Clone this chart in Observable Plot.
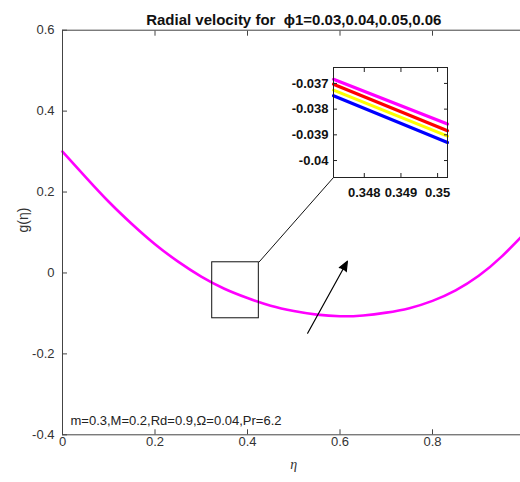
<!DOCTYPE html>
<html>
<head>
<meta charset="utf-8">
<script src="https://cdn.jsdelivr.net/npm/d3@7"></script>
<script src="https://cdn.jsdelivr.net/npm/@observablehq/plot@0.6"></script>
<style>
  html, body { margin: 0; padding: 0; background: white; overflow: hidden; }
  #wrap { position: relative; width: 520px; height: 482px; overflow: hidden; }
  #main svg { max-width: none !important; width: 530px; height: 482px; }
  #inset { position: absolute; left: 273px; top: 57px; }
</style>
</head>
<body>
<div id="wrap"><div id="main"></div><div id="inset"></div></div>
<script>
// ---- data ----
const eta = [0, 0.05, 0.1, 0.15, 0.2, 0.25, 0.3, 0.35, 0.4, 0.45, 0.5, 0.55, 0.6, 0.65, 0.7, 0.75, 0.8, 0.85, 0.9, 0.95, 1.0];
const gVals = [0.300, 0.237, 0.176, 0.121, 0.071, 0.028, -0.009, -0.039, -0.062, -0.081, -0.094, -0.103, -0.107, -0.105, -0.098, -0.087, -0.069, -0.043, -0.007, 0.041, 0.099];
const phiLabels = ["0.03", "0.04", "0.05", "0.06"];
const seriesColors = ["#0000ff", "#ffff00", "#ff0000", "#ff00ff"];
const insetEta = [0.34716, 0.35027];
const insetG = [
  [-0.03748, -0.03930],
  [-0.03726, -0.03905],
  [-0.03703, -0.03884],
  [-0.03684, -0.03858]
];
const xTicks = [0, 0.2, 0.4, 0.6, 0.8, 1];
const yTicks = [-0.4, -0.2, 0, 0.2, 0.4, 0.6];
const insetXTicks = [0.348, 0.349, 0.35];
const insetYTicks = [-0.04, -0.039, -0.038, -0.037];
const titleText = "Radial velocity for  \u03D51=0.03,0.04,0.05,0.06";
const paramText = "m=0.3,M=0.2,Rd=0.9,\u03A9=0.04,Pr=6.2";
// annotation geometry (data units)
const zoomBox = [{x1: 0.3237, x2: 0.4245, y1: -0.112, y2: 0.0264}];
const connector = [{x1: 0.4245, y1: 0.0264, x2: 0.586, y2: 0.236}];
const arrowData = [{x1: 0.530, y1: -0.149, x2: 0.616, y2: 0.029}];
const paramPos = [{x: 0.0173, y: -0.366}];

const mainRows = eta.map((e, i) => ({eta: e, g: gVals[i], phi: "0.06"}));
const insetRows = [];
phiLabels.forEach((p, s) => insetEta.forEach((e, i) => insetRows.push({eta: e, g: insetG[s][i], phi: p})));

const fmt = d => String(d);
const fmtX = d => (d === 1 ? "" : String(d));
const axisColor = "#444";

const main = Plot.plot({
  width: 530, height: 482,
  marginLeft: 62, marginRight: 5.5, marginTop: 29.7, marginBottom: 47.7,
  x: {domain: [0, 1]},
  y: {domain: [-0.4, 0.6]},
  color: {domain: phiLabels, range: seriesColors},
  style: {fontFamily: "'Liberation Sans', Arial, sans-serif", fontSize: "13px", color: "#333", background: "white"},
  marks: [
    Plot.line(mainRows, {x: "eta", y: "g", stroke: "phi", strokeWidth: 2.6, curve: "natural"}),
    Plot.rect(zoomBox, {x1: "x1", x2: "x2", y1: "y1", y2: "y2", fill: "none", stroke: "#111", strokeWidth: 1}),
    Plot.link(connector, {x1: "x1", y1: "y1", x2: "x2", y2: "y2", stroke: "#111", strokeWidth: 1}),
    Plot.arrow(arrowData, {x1: "x1", y1: "y1", x2: "x2", y2: "y2", stroke: "#000", fill: "#000", strokeWidth: 1.2, headLength: 13, headAngle: 45}),
    Plot.text(paramPos, {x: "x", y: "y", text: () => paramText, textAnchor: "start", fontSize: 13, fill: "#222"}),
    Plot.frame({stroke: axisColor, strokeWidth: 1}),
    Plot.axisX({ticks: xTicks, tickSize: -5, tickPadding: 7, tickFormat: fmtX, label: null, stroke: axisColor, fill: "#333"}),
    Plot.axisX({anchor: "top", ticks: xTicks, tickSize: -5, tickFormat: () => "", label: null, stroke: axisColor}),
    Plot.axisY({ticks: yTicks, tickSize: -5, tickPadding: 13, tickFormat: fmt, label: null, stroke: axisColor, fill: "#333"}),
    Plot.axisY({anchor: "right", ticks: yTicks, tickSize: -5, tickFormat: () => "", label: null, stroke: axisColor}),
    Plot.text([titleText], {frameAnchor: "top", dy: -16, fontWeight: "bold", fontSize: 15, fill: "#111"}),
    Plot.text(["\u03B7"], {frameAnchor: "bottom", dy: 34, fontStyle: "italic", fontFamily: "'Liberation Serif', serif", fontSize: 14, fill: "#333"}),
    Plot.text(["g(\u03B7)"], {frameAnchor: "left", dx: -39, rotate: -90, fontSize: 14, fill: "#333"})
  ]
});
document.getElementById("main").appendChild(main);

const inset = Plot.plot({
  width: 184, height: 150,
  marginLeft: 60, marginRight: 10, marginTop: 10, marginBottom: 30,
  x: {domain: insetEta},
  y: {domain: [-0.04066, -0.03638]},
  color: {domain: phiLabels, range: seriesColors},
  style: {fontFamily: "'Liberation Sans', Arial, sans-serif", fontSize: "13px", fontWeight: "bold", color: "#111", background: "transparent"},
  marks: [
    Plot.frame({fill: "white", stroke: "none"}),
    Plot.line(insetRows, {x: "eta", y: "g", stroke: "phi", z: "phi", strokeWidth: 3.2}),
    Plot.frame({stroke: "#222", strokeWidth: 1}),
    Plot.axisX({ticks: insetXTicks, tickSize: -4, tickPadding: 14, tickFormat: fmt, label: null, stroke: "#222", fill: "#111", fontWeight: "bold"}),
    Plot.axisX({anchor: "top", ticks: insetXTicks, tickSize: -4, tickFormat: () => "", label: null, stroke: "#222"}),
    Plot.axisY({ticks: insetYTicks, tickSize: -4, tickPadding: 9, tickFormat: fmt, label: null, stroke: "#222", fill: "#111", fontWeight: "bold"}),
    Plot.axisY({anchor: "right", ticks: insetYTicks, tickSize: -4, tickFormat: () => "", label: null, stroke: "#222"})
  ]
});
document.getElementById("inset").appendChild(inset);
</script>
</body>
</html>
